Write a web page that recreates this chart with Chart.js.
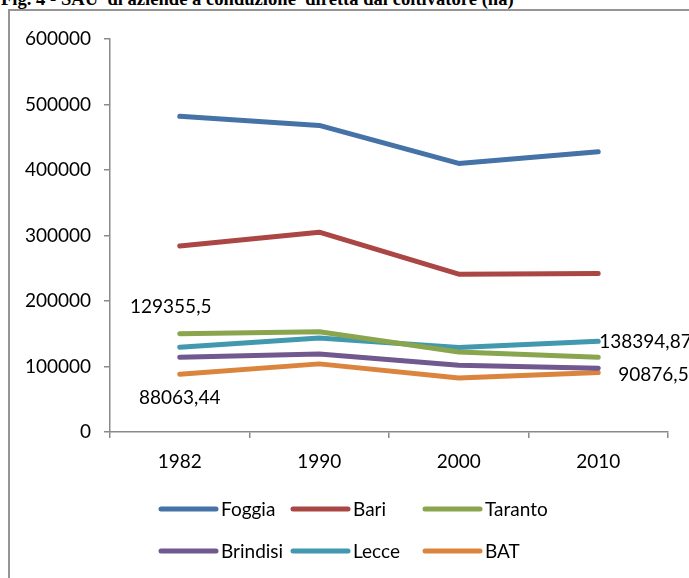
<!DOCTYPE html>
<html>
<head>
<meta charset="utf-8">
<script src="https://cdn.jsdelivr.net/npm/chart.js@4.4.1/dist/chart.umd.min.js"></script>
<style>
  html, body { margin: 0; padding: 0; background: #fff; overflow: hidden; width: 689px; height: 578px; }
  #title { position: absolute; left: 1px; top: -10px; font: bold 18.6px "Liberation Serif", "Times New Roman", serif;
           line-height: 18px; white-space: pre; color: #000; }
  #frame { position: absolute; left: 8px; top: 9px; width: 900px; height: 900px;
           border: 2px solid #959595; box-sizing: border-box; }
  #c { position: absolute; left: 0; top: 0; }
</style>
</head>
<body>
<div id="title">Fig. 4 - SAU  di aziende a conduzione  diretta dal coltivatore (ha)</div>
<div id="frame"></div>
<canvas id="c" width="689" height="578"></canvas>
<script>
// Superficie agricola utilizzata (ha) per provincia
const years    = ['1982', '1990', '2000', '2010'];
const foggia   = [482000, 468000, 410000, 428000];
const bari     = [284000, 305000, 241000, 242000];
const taranto  = [150000, 153000, 122000, 114000];
const brindisi = [114000, 119000, 102000, 97500];
const lecce    = [129355.5, 143500, 129000, 138394.87];
const bat      = [88063.44, 104000, 82500, 90876.5];
const yTicks   = [0, 100000, 200000, 300000, 400000, 500000, 600000];

// Points whose value is written next to them
const labelledPoints = [
  { series: 'Lecce', index: 0 },
  { series: 'BAT',   index: 0 },
  { series: 'Lecce', index: 3 },
  { series: 'BAT',   index: 3 }
];

const FONT = '"Lato", "Open Sans", sans-serif';
const FONT_SIZE = 19;

const series = [
  { label: 'Foggia',   data: foggia,   color: '#4572A7' },
  { label: 'Bari',     data: bari,     color: '#AA4643' },
  { label: 'Taranto',  data: taranto,  color: '#89A54E' },
  { label: 'Brindisi', data: brindisi, color: '#71588F' },
  { label: 'Lecce',    data: lecce,    color: '#4198AF' },
  { label: 'BAT',      data: bat,      color: '#DB843D' }
];

// Label placement relative to its point: [dx, dy, textAlign]
const labelPlacement = {
  'Lecce:0': [-9, -40, 'center'],
  'BAT:0':   [0, 24, 'center'],
  'Lecce:3': [1, 1, 'left'],
  'BAT:3':   [20, 2, 'left']
};

const fmtValue = v => String(v).replace('.', ',');

const pointLabelPlugin = {
  id: 'pointLabels',
  afterDatasetsDraw(chart) {
    const ctx = chart.ctx;
    ctx.save();
    ctx.font = FONT_SIZE + 'px ' + FONT;
    ctx.fillStyle = '#000';
    ctx.textBaseline = 'middle';
    labelledPoints.forEach(p => {
      const di = chart.data.datasets.findIndex(d => d.label === p.series);
      const el = chart.getDatasetMeta(di).data[p.index];
      const [dx, dy, align] = labelPlacement[p.series + ':' + p.index];
      ctx.textAlign = align;
      ctx.fillText(fmtValue(chart.data.datasets[di].data[p.index]), el.x + dx, el.y + dy);
    });
    ctx.restore();
  }
};

// Legend laid out as a 3-column grid below the plot
const gridLegendPlugin = {
  id: 'gridLegend',
  afterDraw(chart) {
    const ctx = chart.ctx;
    const left = 161, top = 509, colW = 132, rowH = 42, lineLen = 55;
    ctx.save();
    ctx.font = FONT_SIZE + 'px ' + FONT;
    ctx.textBaseline = 'middle';
    ctx.textAlign = 'left';
    chart.data.datasets.forEach((ds, i) => {
      const x = left + (i % 3) * colW;
      const y = top + Math.floor(i / 3) * rowH;
      ctx.strokeStyle = ds.borderColor;
      ctx.lineWidth = 5;
      ctx.lineCap = 'round';
      ctx.beginPath();
      ctx.moveTo(x, y);
      ctx.lineTo(x + lineLen, y);
      ctx.stroke();
      ctx.fillStyle = '#000';
      ctx.fillText(ds.label, x + lineLen + 5, y + 1);
    });
    ctx.restore();
  }
};

const axisColor = '#8a8a8a';

new Chart(document.getElementById('c'), {
  type: 'line',
  data: {
    labels: years,
    datasets: series.map(s => ({
      label: s.label,
      data: s.data,
      borderColor: s.color,
      backgroundColor: s.color,
      borderWidth: 5,
      borderCapStyle: 'round',
      borderJoinStyle: 'round',
      pointRadius: 0,
      pointHoverRadius: 0,
      tension: 0,
      fill: false
    }))
  },
  options: {
    responsive: false,
    animation: false,
    devicePixelRatio: 1,
    layout: { padding: { top: 39, right: 21, bottom: 96, left: 0 } },
    plugins: {
      legend: { display: false },
      title: { display: false },
      tooltip: { enabled: false }
    },
    scales: {
      x: {
        type: 'category',
        offset: true,
        grid: { offset: true, drawOnChartArea: false, drawTicks: true, tickLength: 6, color: axisColor, lineWidth: 1.5 },
        border: { display: true, color: axisColor, width: 1.5 },
        ticks: { color: '#000', font: { family: FONT, size: FONT_SIZE }, padding: 12, maxRotation: 0 },
        afterFit(scale) { scale.height = 50; }
      },
      y: {
        min: 0,
        max: 600000,
        afterBuildTicks(scale) { scale.ticks = yTicks.map(v => ({ value: v })); },
        grid: { drawOnChartArea: false, drawTicks: true, tickLength: 6, color: axisColor, lineWidth: 1.5 },
        border: { display: true, color: axisColor, width: 1.5 },
        ticks: { color: '#000', font: { family: FONT, size: FONT_SIZE }, padding: 13, callback: v => String(v) },
        afterFit(scale) { scale.width = 110; }
      }
    }
  },
  plugins: [pointLabelPlugin, gridLegendPlugin]
});
</script>
</body>
</html>
